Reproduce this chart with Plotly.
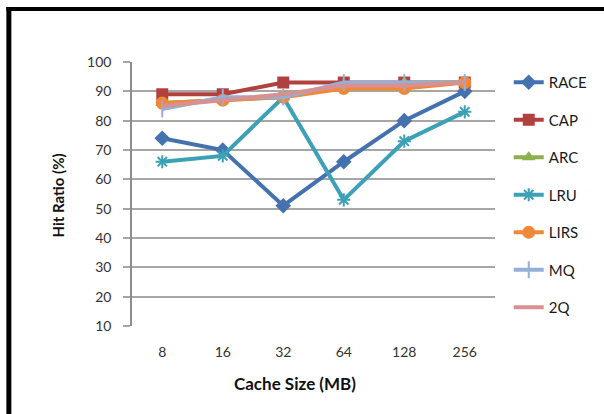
import plotly.graph_objects as go

# Cache sizes on the category axis
cache_sizes = ["8", "16", "32", "64", "128", "256"]

# Hit ratio (%) per replacement policy
race = [74, 70, 51, 66, 80, 90]
cap = [89, 89, 93, 93, 93, 93]
arc = [86, 87, 88, 92, 93, 93]
lru = [66, 68, 88, 53, 73, 83]
lirs = [86, 87, 88, 91, 91, 93]
mq = [84, 88, 88, 93, 93, 93]
q2 = [85, 87, 89, 92, 92, 93]

y_ticks = [10, 20, 30, 40, 50, 60, 70, 80, 90, 100]

W, H = 604, 414
ML, MR, MT, MB = 132, 102, 62, 88
PW, PH = W - ML - MR, H - MT - MB


def px_x(px):
    return (px - ML) / PW


def px_y(py):
    return (H - MB - py) / PH


series = [
    ("RACE", race, "#4472AE", "diamond", 12, 0),
    ("CAP", cap, "#B0413E", "square", 12, 0),
    ("ARC", arc, "#8EB04C", "triangle-up", 12, 0),
    ("LRU", lru, "#3CA0B6", "asterisk-open", 11, 2),
    ("LIRS", lirs, "#F0883A", "circle", 13, 0),
    ("MQ", mq, "#94B0DA", "line-ns-open", 12, 2),
    ("2Q", q2, "#D69190", "circle", 1, 0),
]

fig = go.Figure()
for i, (name, vals, color, sym, size, lw) in enumerate(series):
    marker = dict(symbol=sym, size=size, color=color)
    if lw:
        marker["line"] = dict(color=color, width=lw)
    else:
        marker["line"] = dict(width=0)
    fig.add_trace(go.Scatter(
        x=cache_sizes, y=vals, name=name, mode="lines+markers",
        line=dict(color=color, width=4), marker=marker,
        legendgroup=f"g{i}",
    ))

font_family = "Lato, 'Open Sans', sans-serif"

fig.update_layout(
    width=W, height=H,
    margin=dict(l=ML, r=MR, t=MT, b=MB),
    paper_bgcolor="white", plot_bgcolor="white",
    font=dict(family=font_family, size=14, color="#333333"),
    showlegend=True,
    legend=dict(
        x=px_x(516), y=px_y(66), xanchor="left", yanchor="top",
        font=dict(size=15, color="#1a1a1a"),
        tracegroupgap=15, traceorder="grouped",
        itemwidth=30, bgcolor="rgba(0,0,0,0)",
    ),
    xaxis=dict(
        type="category", range=[-0.5, 5.5],
        showgrid=False, showline=False, ticks="",
        ticklabelstandoff=16,
        tickfont=dict(size=14, color="#333333"),
        zeroline=False,
    ),
    yaxis=dict(
        range=[10, 100], tickvals=y_ticks,
        showgrid=True, gridcolor="#A6A6A6", gridwidth=1.5,
        showline=True, linecolor="#8C8C8C", linewidth=1.5,
        ticks="outside", ticklen=7, tickcolor="#A6A6A6", tickwidth=1.5,
        ticklabelstandoff=9,
        tickfont=dict(size=14, color="#333333"),
        zeroline=False,
    ),
    annotations=[
        dict(text="<b>Hit Ratio (%)</b>", x=px_x(57), y=px_y(195),
             xref="paper", yref="paper", showarrow=False, textangle=-90,
             xanchor="center", yanchor="middle",
             font=dict(size=15, color="#111111")),
        dict(text="<b>Cache Size (MB)</b>", x=px_x(298), y=px_y(383),
             xref="paper", yref="paper", showarrow=False,
             xanchor="center", yanchor="middle",
             font=dict(size=17, color="#111111")),
    ],
    shapes=[
        dict(type="line", xref="paper", yref="paper",
             x0=px_x(4), x1=px_x(W + 10), y0=px_y(9), y1=px_y(9),
             line=dict(color="black", width=4)),
        dict(type="line", xref="paper", yref="paper",
             x0=px_x(6.5), x1=px_x(6.5), y0=px_y(7), y1=px_y(H + 10),
             line=dict(color="black", width=5)),
    ],
)

fig.write_html("out.html")
